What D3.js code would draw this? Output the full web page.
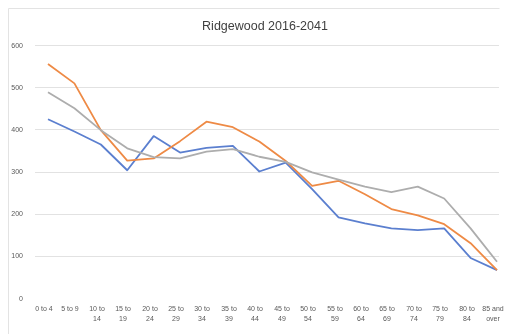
<!DOCTYPE html>
<html>
<head>
<meta charset="utf-8">
<script src="https://cdn.jsdelivr.net/npm/d3@7"></script>
<style>
  html, body { margin: 0; padding: 0; background: #ffffff; }
  svg { display: block; will-change: transform; }
  text { -webkit-font-smoothing: antialiased; }
</style>
</head>
<body>
<svg id="chart" width="516" height="334"></svg>
<script>
const categories = [["0 to 4"], ["5 to 9"], ["10 to", "14"], ["15 to", "19"], ["20 to", "24"], ["25 to", "29"],
  ["30 to", "34"], ["35 to", "39"], ["40 to", "44"], ["45 to", "49"], ["50 to", "54"], ["55 to", "59"],
  ["60 to", "64"], ["65 to", "69"], ["70 to", "74"], ["75 to", "79"], ["80 to", "84"], ["85 and", "over"]];
const seriesBlue   = [424, 395, 364, 303, 384, 345, 356, 361, 300, 321, 258, 191, 177, 165, 161, 165, 95, 66];
const seriesOrange = [555, 509, 398, 326, 331, 372, 418, 405, 371, 325, 266, 278, 246, 211, 196, 175, 130, 66];
const seriesGray   = [488, 450, 398, 355, 334, 331, 347, 353, 335, 323, 298, 281, 264, 251, 264, 236, 165, 86];
const yTicks = [0, 100, 200, 300, 400, 500, 600];
const title = "Ridgewood 2016-2041";

const svg = d3.select("#chart");
const font = "'Liberation Sans', Arial, sans-serif";

// chart area border
svg.append("path")
  .attr("d", "M8.5,340 L8.5,8.5 L499.5,8.5")
  .attr("fill", "none").attr("stroke", "#e3e3e3").attr("stroke-width", 1);

const labels = categories.map(c => c.join(" "));
const x = d3.scalePoint().domain(labels).range([48, 497]);
const y = d3.scaleLinear().domain([0, 600]).range([298, 45]);

// gridlines
svg.append("g").selectAll("line").data(yTicks.filter(t => t > 0)).join("line")
  .attr("x1", 35).attr("x2", 499)
  .attr("y1", d => Math.round(y(d)) + 0.5).attr("y2", d => Math.round(y(d)) + 0.5)
  .attr("stroke", "#e2e2e2").attr("stroke-width", 1);

// y tick labels
svg.append("g").selectAll("text").data(yTicks).join("text")
  .attr("x", 23).attr("y", d => Math.round(y(d) + 2.5))
  .attr("text-anchor", "end")
  .attr("font-family", font).attr("font-size", 7).attr("fill", "#595959")
  .text(d => d);

// x tick labels
const xl = svg.append("g").selectAll("text").data(categories).join("text")
  .attr("x", (d, i) => Math.round(x(labels[i]) - 4))
  .attr("y", 311)
  .attr("text-anchor", "middle")
  .attr("font-family", font).attr("font-size", 7).attr("fill", "#595959");
xl.selectAll("tspan").data(d => d).join("tspan")
  .attr("x", function() { return d3.select(this.parentNode).attr("x"); })
  .attr("dy", (d, i) => i === 0 ? 0 : 9.5)
  .text(d => d);

// lines
const line = d3.line().x((d, i) => x(labels[i])).y(d => y(d));
const series = [
  { values: seriesBlue, color: "#5b7fcf" },
  { values: seriesOrange, color: "#ee8a45" },
  { values: seriesGray, color: "#adadad" }
];
svg.append("g").selectAll("path").data(series).join("path")
  .attr("d", d => line(d.values))
  .attr("fill", "none")
  .attr("stroke", d => d.color)
  .attr("stroke-width", 1.8)
  .attr("stroke-linejoin", "round");

// title
svg.append("text")
  .attr("x", 265).attr("y", 29.5)
  .attr("text-anchor", "middle")
  .attr("font-family", font).attr("font-size", 12.5).attr("fill", "#404040")
  .text(title);
</script>
</body>
</html>
